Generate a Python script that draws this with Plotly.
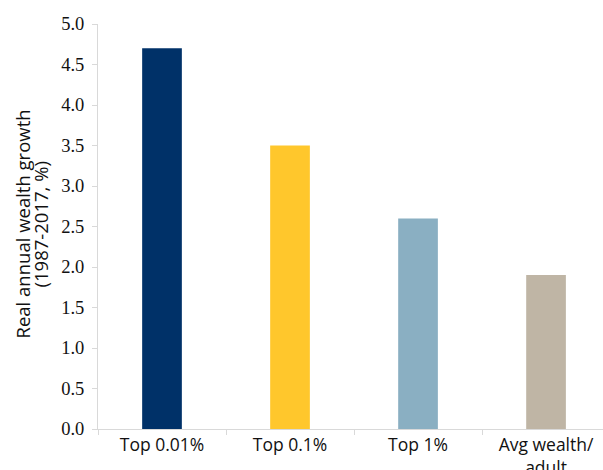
import plotly.graph_objects as go

categories = ["Top 0.01%", "Top 0.1%", "Top 1%", "Avg wealth/<br>adult"]
values = [4.7, 3.5, 2.6, 1.9]
colors = ["#003168", "#FFC72C", "#8AAFC2", "#BFB5A5"]
y_ticks = [0, 0.5, 1, 1.5, 2, 2.5, 3, 3.5, 4, 4.5, 5]
y_tick_labels = [f"{v:.1f}" for v in y_ticks]
y_title_lines = ["Real annual wealth growth", "(1987-2017, %)"]

fig = go.Figure(go.Bar(x=categories, y=values, marker_color=colors,
                       marker_line_width=0, width=0.31))

fig.update_layout(
    width=603, height=470,
    margin=dict(l=98, r=0, t=24, b=41, autoexpand=False),
    paper_bgcolor="white", plot_bgcolor="white",
    font=dict(family="Open Sans", size=16, color="#111111"),
    showlegend=False,
)
fig.update_xaxes(
    range=[-0.5, 3.445], showline=True, linecolor="#D9D9D9", linewidth=1,
    ticks="outside", tickson="boundaries", tickcolor="#D9D9D9", ticklen=5,
    showgrid=False, tickfont=dict(size=17.5), automargin=False,
)
fig.update_yaxes(
    range=[0, 5], tickvals=y_ticks, ticktext=y_tick_labels,
    showline=True, linecolor="#D9D9D9", linewidth=1,
    ticks="outside", tickcolor="#D9D9D9", ticklen=5, showgrid=False,
    zeroline=False, automargin=False, ticklabelstandoff=4,
    tickfont=dict(family="Liberation Serif", size=18.5),
)
for line, xpos in zip(y_title_lines, [22, 40]):
    fig.add_annotation(
        text=line, textangle=-90, xref="paper", yref="paper",
        x=(xpos - 98) / 505, y=0.505, xanchor="center", yanchor="middle",
        showarrow=False, font=dict(size=18.5),
    )
fig.write_html("out.html")
